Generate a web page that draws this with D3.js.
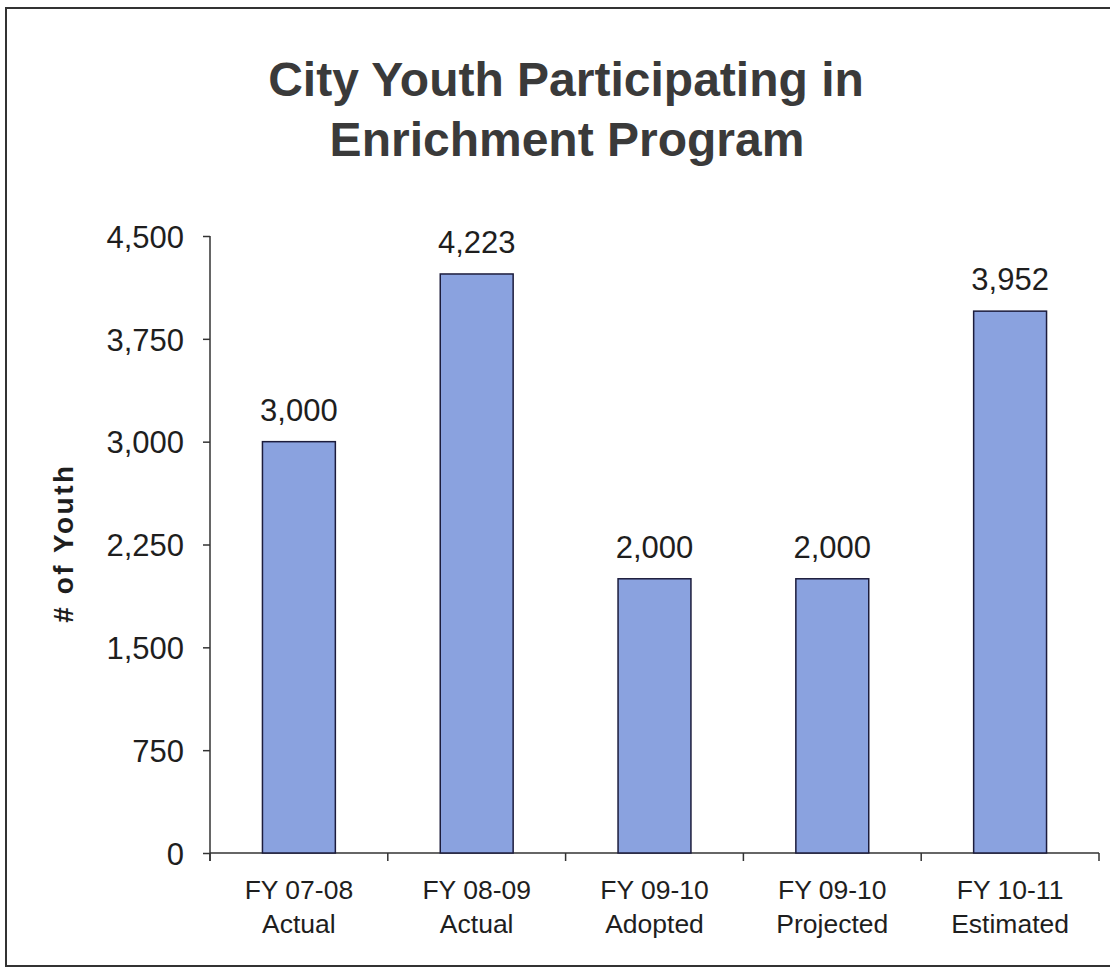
<!DOCTYPE html>
<html>
<head>
<meta charset="utf-8">
<script src="https://cdn.jsdelivr.net/npm/d3@7"></script>
<style>
  html, body { margin: 0; background: #fff; overflow: hidden; }
  svg { display: block; }
  text { font-family: "Liberation Sans", Arial, sans-serif; fill: #1e1e1e; }
</style>
</head>
<body>
<svg id="drawingSpace" width="1110" height="967"></svg>
<script>
//chart data
var fiscalYears = ["FY 07-08", "FY 08-09", "FY 09-10", "FY 09-10", "FY 10-11"],
    yearTypes = ["Actual", "Actual", "Adopted", "Projected", "Estimated"],
    youthCounts = [3000, 4223, 2000, 2000, 3952],
    yTicks = [0, 750, 1500, 2250, 3000, 3750, 4500];

var svg = d3.select("#drawingSpace"),
    width = +svg.attr("width"),
    height = +svg.attr("height"),
    margin = {top: 236, left: 210, bottom: 114, right: 11},
    chartWidth = width - margin.left - margin.right,
    chartHeight = height - margin.top - margin.bottom;

//outer frame: left, top and a faint bottom edge; the right edge is off the picture
svg.append("path")
    .attr("d", "M1110,8H6V966H1110")
    .attr("fill", "none")
    .attr("stroke", "#333")
    .attr("stroke-width", 2);

//title
var title = svg.append("text")
    .attr("text-anchor", "middle")
    .attr("font-weight", "bold")
    .attr("font-size", 48)
    .style("fill", "#3a3a3a");
title.append("tspan").attr("x", 566).attr("y", 96).text("City Youth Participating in");
title.append("tspan").attr("x", 567).attr("y", 156).text("Enrichment Program");

var chartLayer = svg.append("g")
    .attr("transform", "translate(" + [margin.left, margin.top] + ")");

var x = d3.scaleBand()
    .domain(d3.range(youthCounts.length))
    .range([0, chartWidth])
    .paddingInner(0.59)
    .paddingOuter(0.295);

var y = d3.scaleLinear()
    .domain([0, 4500])
    .range([chartHeight, 0]);

//y axis
var yAxis = chartLayer.append("g")
    .call(d3.axisLeft(y).tickValues(yTicks).tickSize(7).tickPadding(19).tickFormat(d3.format(",")));
yAxis.select(".domain").attr("d", "M0,0V" + (chartHeight + 8));
yAxis.selectAll("text").attr("font-size", 31).attr("font-family", null).attr("dy", "0.36em");
yAxis.selectAll("line, path").attr("stroke", "#333").attr("stroke-width", 1.5);

//x axis with ticks at category boundaries
var xAxis = chartLayer.append("g")
    .attr("transform", "translate(0," + chartHeight + ")");
xAxis.append("line")
    .attr("x1", 0).attr("x2", chartWidth)
    .attr("stroke", "#333").attr("stroke-width", 1.5);
xAxis.selectAll(".xtick")
    .data(d3.range(youthCounts.length + 1))
    .enter().append("line")
    .attr("class", "xtick")
    .attr("x1", function (d) { return d * x.step(); })
    .attr("x2", function (d) { return d * x.step(); })
    .attr("y1", 0).attr("y2", 8)
    .attr("stroke", "#333").attr("stroke-width", 1.5);

var xLabels = xAxis.selectAll(".xlabel")
    .data(youthCounts)
    .enter().append("text")
    .attr("class", "xlabel")
    .attr("text-anchor", "middle")
    .attr("font-size", 26.5);
xLabels.append("tspan")
    .attr("x", function (d, i) { return x(i) + x.bandwidth() / 2; })
    .attr("y", 46)
    .text(function (d, i) { return fiscalYears[i]; });
xLabels.append("tspan")
    .attr("x", function (d, i) { return x(i) + x.bandwidth() / 2; })
    .attr("y", 80)
    .text(function (d, i) { return yearTypes[i]; });

//y axis title
svg.append("text")
    .attr("transform", "translate(73,543) rotate(-90)")
    .attr("text-anchor", "middle")
    .attr("font-weight", "bold")
    .attr("font-size", 28)
    .style("letter-spacing", "2.5px")
    .text("# of Youth");

//bars
chartLayer.selectAll(".bar")
    .data(youthCounts)
    .enter().append("rect")
    .attr("class", "bar")
    .attr("x", function (d, i) { return x(i); })
    .attr("y", function (d) { return y(d); })
    .attr("width", x.bandwidth())
    .attr("height", function (d) { return chartHeight - y(d); })
    .attr("fill", "#8aa2df")
    .attr("stroke", "#1c1c3c")
    .attr("stroke-width", 1.5);

//value labels
chartLayer.selectAll(".value")
    .data(youthCounts)
    .enter().append("text")
    .attr("class", "value")
    .attr("text-anchor", "middle")
    .attr("font-size", 31)
    .attr("x", function (d, i) { return x(i) + x.bandwidth() / 2; })
    .attr("y", function (d) { return y(d) - 21; })
    .text(d3.format(","));
</script>
</body>
</html>
